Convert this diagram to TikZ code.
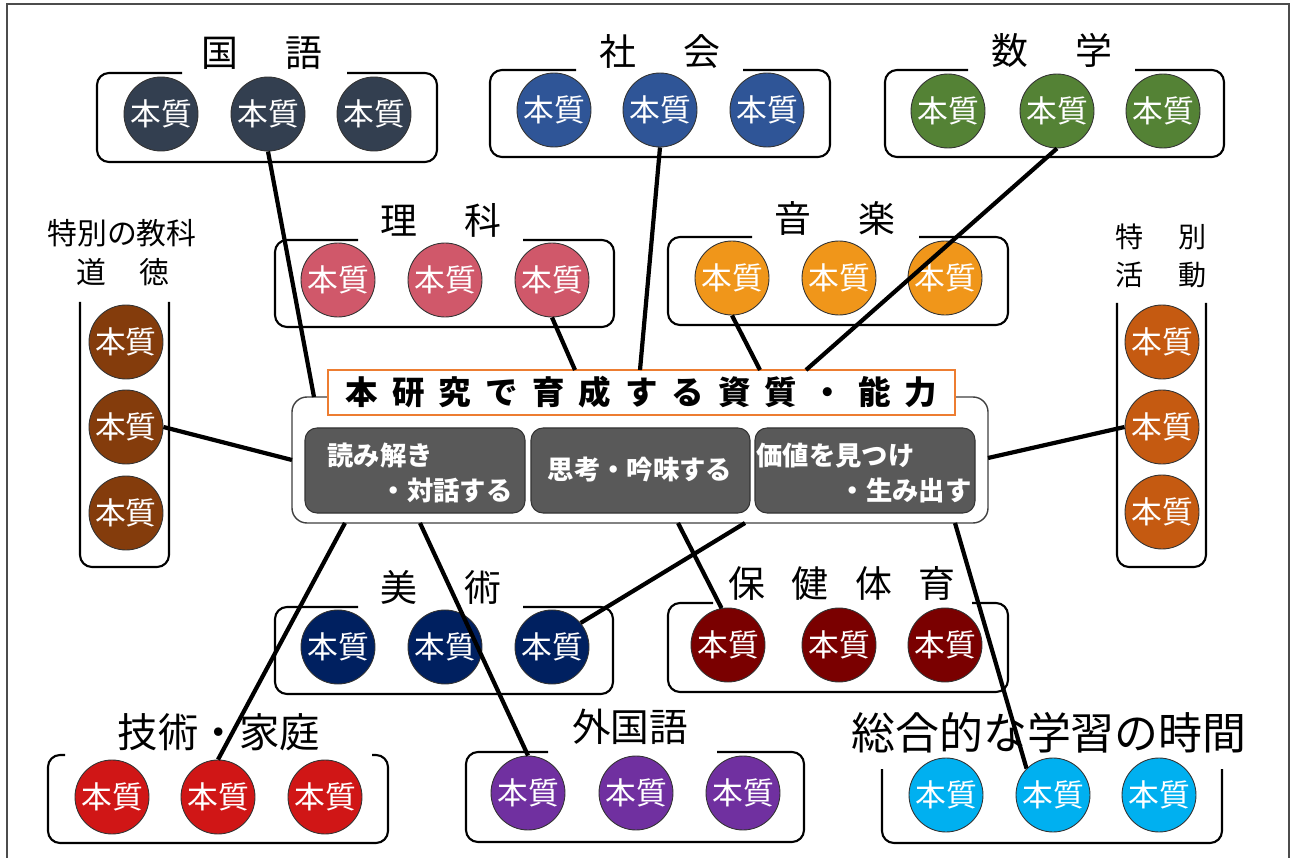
\documentclass[tikz,border=0pt]{standalone}
\usepackage{fontspec}
\setmainfont{Noto Sans CJK JP}
\definecolor{cKok}{RGB}{51,63,80}
\definecolor{cSha}{RGB}{47,85,151}
\definecolor{cSuu}{RGB}{84,130,53}
\definecolor{cRi}{RGB}{208,88,106}
\definecolor{cOn}{RGB}{240,150,26}
\definecolor{cDou}{RGB}{132,60,12}
\definecolor{cTok}{RGB}{197,90,17}
\definecolor{cBi}{RGB}{0,32,96}
\definecolor{cHo}{RGB}{122,0,0}
\definecolor{cGika}{RGB}{208,22,22}
\definecolor{cGai}{RGB}{112,48,160}
\definecolor{cSou}{RGB}{0,176,240}
\definecolor{cGray}{RGB}{89,89,89}
\definecolor{cOrg}{RGB}{237,125,49}
\newcommand\grpbox[6]{\draw[grp] (#5,#2) -- (#1,#2) -- (#1,#4) -- (#3,#4) -- (#3,#2) -- (#6,#2);}
\newcommand\openbox[4]{\draw[grp] (#1,#2) -- (#1,#4) -- (#3,#4) -- (#3,#2);}
\newcommand\tg{\hspace{27pt}}
\newcommand\cg{\hspace{8pt}}
\begin{document}
\begin{tikzpicture}[x=0.02cm,y=-0.02cm,
  hon/.style={circle, draw=black!80, line width=0.5pt, minimum size=1.48cm, inner sep=0pt, text=white, font=\fontsize{17.5}{17.5}\selectfont},
  grp/.style={line width=1.2pt, rounded corners=0.24cm},
  conn/.style={line width=2.4pt},
  ttl/.style={inner sep=0pt, font=\fontsize{21}{21}\selectfont},
  inbox/.style={draw=black!80, line width=0.6pt, fill=cGray, rounded corners=0.24cm},
  intext/.style={inner sep=0pt, text=white, font=\bfseries\fontsize{15}{15}\selectfont}]
\useasboundingbox (0,0) rectangle (1296,858);
\fill[white] (0,0) rectangle (1296,858);
\draw[black!70, line width=1pt] (7,870) -- (7,4) -- (1289,4) -- (1289,870);

% group boxes
\grpbox{97}{73}{437}{162}{182}{347}
\grpbox{490}{70}{830}{157}{576}{743}
\grpbox{885}{70}{1224}{157}{968}{1135}
\grpbox{275}{240}{614}{327}{358}{523}
\grpbox{668}{237}{1008}{325}{752}{919}
\grpbox{275}{607}{613}{694}{358}{523}
\grpbox{668}{603}{1008}{692}{713}{972}
\grpbox{48}{755}{388}{843}{65}{372}
\grpbox{466}{752}{804}{842}{548}{717}
\openbox{882}{769}{1222}{843}
\openbox{80}{302}{169}{567}
\openbox{1117}{303}{1206}{567}

% titles
\node[ttl] (tKok) at (262,53) {国\tg 語};
\node[ttl] (tSha) at (660,52) {社\tg 会};
\node[ttl] (tSuu) at (1052,50) {数\tg 学};
\node[ttl] (tRi) at (441,220) {理\tg 科};
\node[ttl] (tOn) at (835,218) {音\tg 楽};
\node[ttl] (tBi) at (441,587) {美\tg 術};
\node[ttl] (tHo) at (842,583) {保\hspace{15pt}健\hspace{15pt}体\hspace{15pt}育};
\node[ttl, font=\fontsize{23}{23}\selectfont] (tGika) at (219,732) {技術・家庭};
\node[ttl, font=\fontsize{22}{22}\selectfont] (tGai) at (630,727) {外国語};
\node[ttl, font=\fontsize{25}{25}\selectfont] (tSou) at (1049,733) {総合的な学習の時間};
\node[ttl, font=\fontsize{17}{17}\selectfont] (tDou1) at (122,233) {特別の教科};
\node[ttl, font=\fontsize{17}{17}\selectfont] (tDou2) at (123,272) {道\hspace{19pt}徳};
\node[ttl, font=\fontsize{16}{16}\selectfont] (tTok1) at (1161,237) {特\hspace{20pt}別};
\node[ttl, font=\fontsize{16}{16}\selectfont] (tTok2) at (1161,275) {活\hspace{20pt}動};

% circles
\foreach \i/\x in {1/161,2/268,3/374} \node[hon, fill=cKok] (kok\i) at (\x,114) {本質};
\foreach \i/\x in {1/554,2/660,3/767} \node[hon, fill=cSha] (sha\i) at (\x,110) {本質};
\foreach \i/\x in {1/948,2/1057,3/1163} \node[hon, fill=cSuu] (suu\i) at (\x,111) {本質};
\foreach \i/\x in {1/338,2/445,3/552} \node[hon, fill=cRi] (ri\i) at (\x,280) {本質};
\foreach \i/\x in {1/732,2/839,3/945} \node[hon, fill=cOn] (on\i) at (\x,278) {本質};
\foreach \i/\x in {1/338,2/445,3/552} \node[hon, fill=cBi] (bi\i) at (\x,647) {本質};
\foreach \i/\x in {1/728,2/839,3/945} \node[hon, fill=cHo] (ho\i) at (\x,645) {本質};
\foreach \i/\x in {1/112,2/218,3/325} \node[hon, fill=cGika] (gika\i) at (\x,797) {本質};
\foreach \i/\x in {1/528,2/636,3/743} \node[hon, fill=cGai] (gai\i) at (\x,793) {本質};
\foreach \i/\x in {1/946,2/1053,3/1159} \node[hon, fill=cSou] (sou\i) at (\x,795) {本質};
\foreach \i/\y in {1/342,2/427,3/513} \node[hon, fill=cDou] (dou\i) at (126,\y) {本質};
\foreach \i/\y in {1/342,2/427,3/512} \node[hon, fill=cTok] (tok\i) at (1162,\y) {本質};

% central box
\draw[black!75, line width=0.8pt, fill=white, rounded corners=0.3cm] (292,397) rectangle (988,523);
\node[draw=cOrg, line width=1.6pt, fill=white, minimum width=12.54cm, minimum height=0.9cm, inner sep=0pt,
  font=\bfseries\fontsize{18.5}{18.5}\selectfont] (ttl) at (641.5,392.5)
  {本\cg 研\cg 究\cg で\cg 育\cg 成\cg す\cg る\cg 資\cg 質\cg ・\cg 能\cg 力};
\draw[inbox] (305,428) rectangle (525,513);
\draw[inbox] (531,428) rectangle (750,513);
\draw[inbox] (755,428) rectangle (975,513);
\node[intext, anchor=west] (a1) at (327,456) {読み解き};
\node[intext, anchor=east] (a2) at (513,490) {・対話する};
\node[intext] (b1) at (640,470) {思考・吟味する};
\node[intext, anchor=west] (c1) at (756,456) {価値を見つけ};
\node[intext, anchor=east] (c2) at (972,490) {・生み出す};

% connector endpoints
\coordinate (pA) at (314,397);
\coordinate (pB) at (640,370);
\coordinate (pC) at (806,370);
\coordinate (pD) at (575,370);
\coordinate (pE) at (760,370);
\coordinate (pF) at (292,460);
\coordinate (pG) at (988,458);
\coordinate (pH) at (345,523);
\coordinate (pI) at (420,523);
\coordinate (pJ) at (745,523);
\coordinate (pK) at (678,523);
\coordinate (pL) at (955,523);

% connectors
\draw[conn] (kok2.south) -- (pA);
\draw[conn] (sha2.south) -- (pB);
\draw[conn] (suu2.south) -- (pC);
\draw[conn] (ri3.south) -- (pD);
\draw[conn] (on1.south) -- (pE);
\draw[conn] (dou2.east) -- (pF);
\draw[conn] (tok2.west) -- (pG);
\draw[conn] (gika2.north) -- (pH);
\draw[conn] (gai1.north) -- (pI);
\draw[conn] (bi3.40) -- (pJ);
\draw[conn] (ho1.100) -- (pK);
\draw[conn] (sou2.135) -- (pL);
\end{tikzpicture}
\end{document}
